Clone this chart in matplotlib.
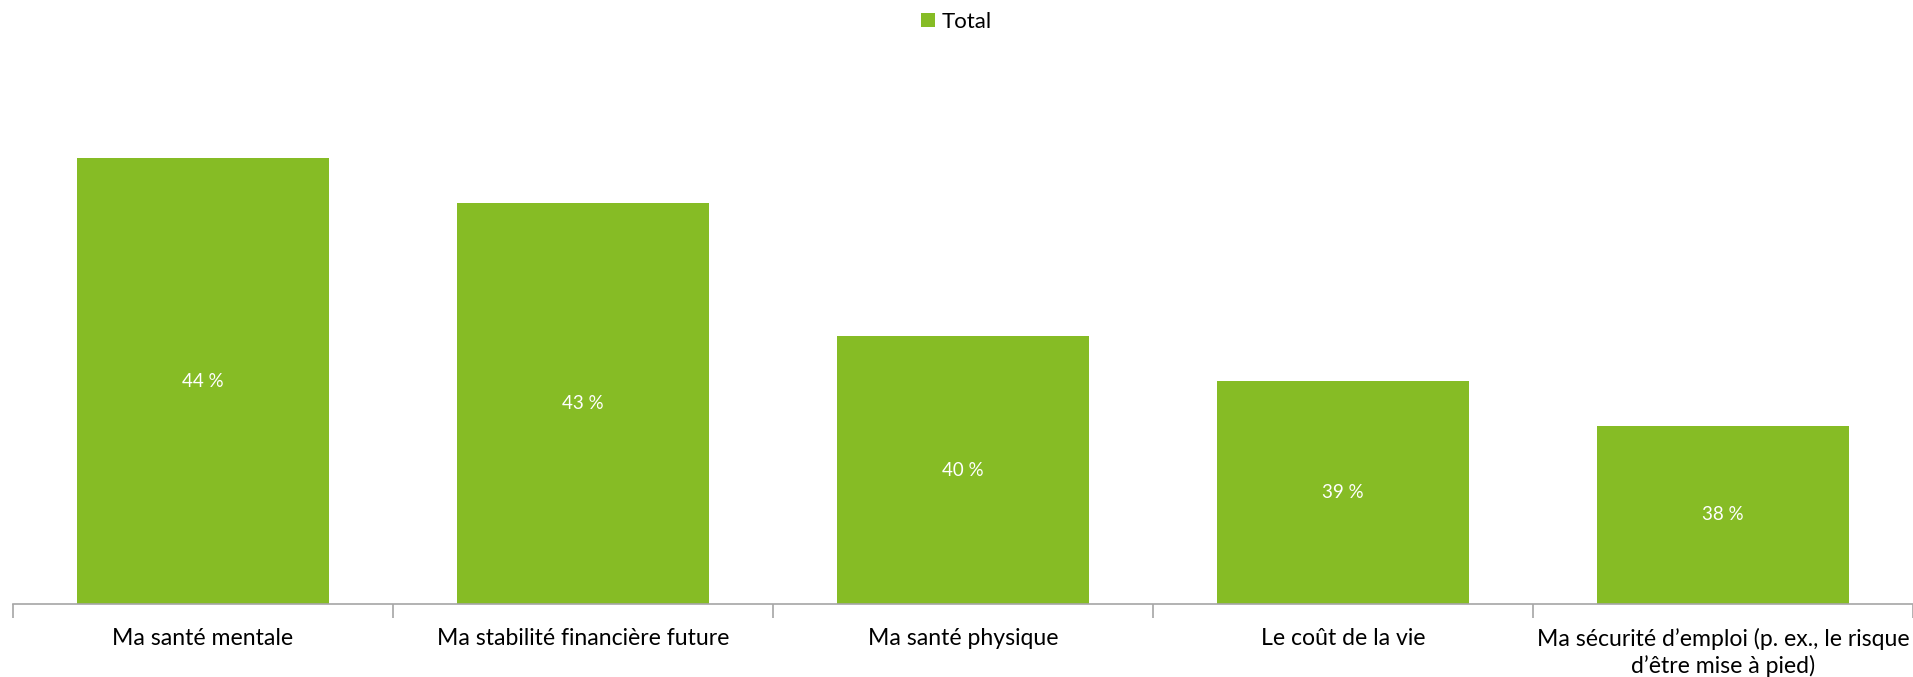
import numpy as np
import matplotlib.pyplot as plt

# data
categories = ["Ma santé mentale", "Ma stabilité financière future", "Ma santé physique",
              "Le coût de la vie", "Ma sécurité d\u2019emploi (p. ex., le risque\nd\u2019être mise à pied)"]
values = [44, 43, 40, 39, 38]
value_labels = ["44 %", "43 %", "40 %", "39 %", "38 %"]
series_name = "Total"

green = "#86BC25"
plt.rcParams['font.family'] = ['Lato', 'DejaVu Sans']

fig = plt.figure(figsize=(19.13, 6.77), dpi=100)
ax = fig.add_axes([0.0068, 0.108, 0.9932, 0.79])

x = np.arange(len(categories))
base = 34
bars = ax.bar(x, np.array(values) - base, bottom=base, width=0.665, color=green, label=series_name)

for xi, v, lab in zip(x, values, value_labels):
    ax.text(xi, (v + base) / 2, lab, ha='center', va='center', color='white', fontsize=13.5)

ax.set_xlim(-0.5, len(categories) - 0.5)
ax.set_ylim(base, 46)
ax.set_yticks([])
for s in ['left', 'right', 'top']:
    ax.spines[s].set_visible(False)
ax.spines['bottom'].set_color('#a6a6a6')
ax.spines['bottom'].set_linewidth(1.2)

# category labels between boundary ticks
ax.set_xticks(np.arange(len(categories) + 1) - 0.5)
ax.set_xticklabels([])
ax.tick_params(axis='x', length=10, color='#a6a6a6', width=1.2)
for xi, c in zip(x, categories):
    ax.text(xi, -0.045, c, transform=ax.get_xaxis_transform(), ha='center', va='top',
            fontsize=16.6, color='#000000', linespacing=1.27)

fig.legend(handles=[bars], labels=[series_name], loc='upper center', bbox_to_anchor=(0.5, 1.012),
           frameon=False, fontsize=16, handlelength=0.6, handleheight=0.6, handletextpad=0.3)

fig.savefig("out.png", dpi=100)
